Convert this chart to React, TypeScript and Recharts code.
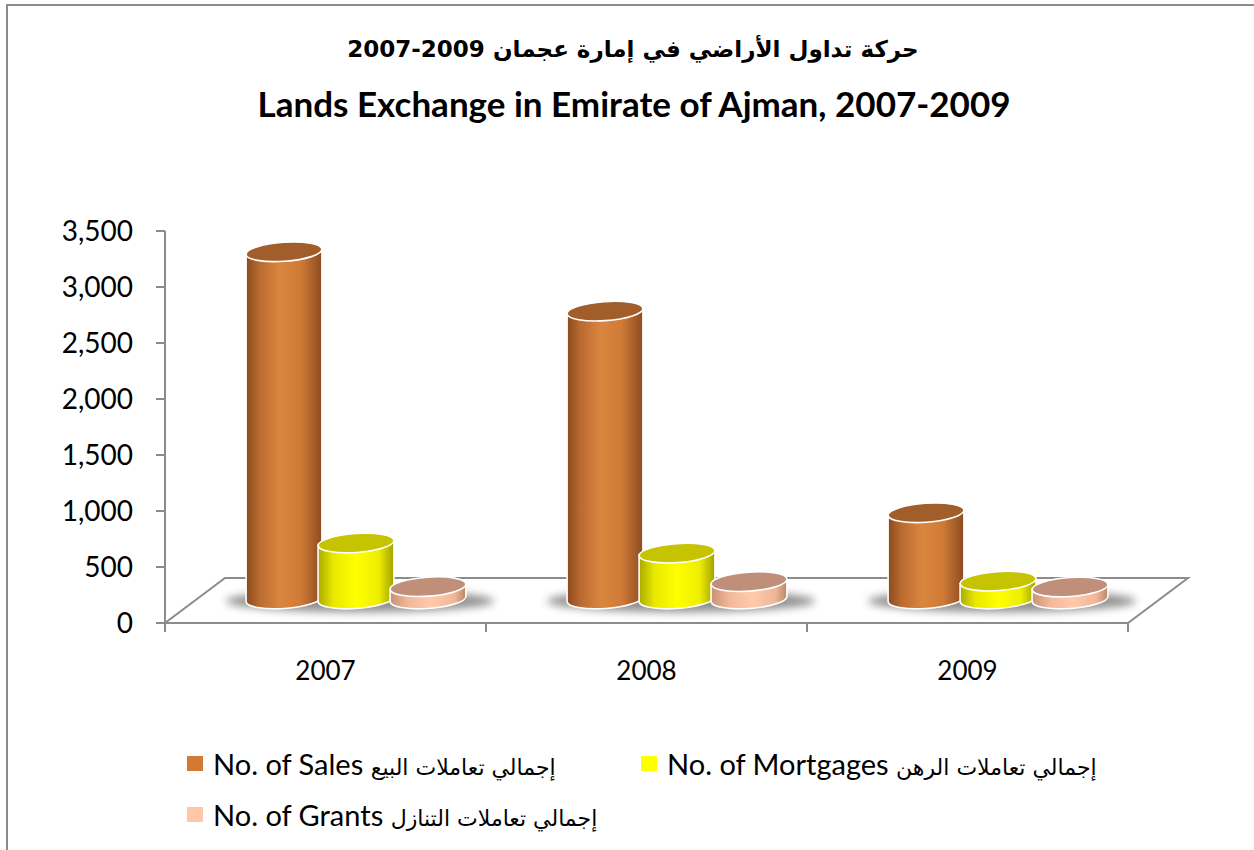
import React from "react";
import { Bar, BarChart, Customized, XAxis, YAxis } from "recharts";

// values (3D cylinders, Excel-style)
const CATEGORIES = ["2007", "2008", "2009"];
const SALES = [3100, 2570, 770];
const MORTGAGES = [500, 410, 160];
const GRANTS = [110, 155, 107];
const Y_TICKS = [0, 500, 1000, 1500, 2000, 2500, 3000, 3500];

// logical order of the years is reversed so the RTL line shows "2007-2009"
const TITLE_AR = "حركة تداول الأراضي في إمارة عجمان 2009-2007";
const TITLE_EN = "Lands Exchange in Emirate of Ajman, 2007-2009";

const SERIES = [
  { key: "sales", label: "No. of Sales", labelAr: "إجمالي تعاملات البيع", swatch: "#d07a35" },
  { key: "mortgages", label: "No. of Mortgages", labelAr: "إجمالي تعاملات الرهن", swatch: "#ffff00" },
  { key: "grants", label: "No. of Grants", labelAr: "إجمالي تعاملات التنازل", swatch: "#ffc6a8" },
];

const data = CATEGORIES.map((year, i) => ({
  year,
  sales: SALES[i],
  mortgages: MORTGAGES[i],
  grants: GRANTS[i],
}));

const W = 1254;
const H = 850;
// plot box (front face of the 3D floor)
const PLOT = { left: 165, top: 231, right: 1128, bottom: 623 };
const DEPTH = { dx: 60, dy: 45 };
const Y_AXIS_W = 100;
const X_AXIS_H = 60;
const AXIS_GRAY = "#8c8c8c";
const FONT = "Lato, 'DejaVu Sans', sans-serif";
const AR_FONT = "'DejaVu Sans', sans-serif";

// bars sit half way back on the floor
const SHIFT_X = DEPTH.dx / 2;
const SHIFT_Y = 24;
const TILT = (-4 * Math.PI) / 180;

const CYL = {
  sales: { grad: "gSales", top: "#a15e2b" },
  mortgages: { grad: "gMort", top: "#c6c300" },
  grants: { grad: "gGrant", top: "#bf8f79" },
};

function makeCylinder(kind: keyof typeof CYL, withShadow: boolean) {
  return (props: any) => {
    const { x, y, width, height } = props;
    if (width == null || height == null) return <g />;
    const cx = x + width / 2 + SHIFT_X;
    const rx = width / 2 + 2;
    const ry = 9.5;
    const topY = y - SHIFT_Y;
    const botY = y + height - SHIFT_Y;
    const ex = rx * Math.cos(TILT);
    const ey = rx * Math.sin(TILT);
    const deg = (TILT * 180) / Math.PI;
    const side = `M${cx - ex},${topY - ey} L${cx - ex},${botY - ey} A${rx},${ry} ${deg} 0 0 ${cx + ex},${botY + ey} L${cx + ex},${topY + ey} Z`;
    return (
      <g>
        {withShadow && (
          <ellipse
            cx={x + width * 1.5 + SHIFT_X + 4}
            cy={botY + 2}
            rx={width * 1.5 + 26}
            ry={11}
            fill="#7a7a7a"
            opacity={0.85}
            filter="url(#baseShadow)"
          />
        )}
        <path d={side} fill={`url(#${CYL[kind].grad})`} stroke="#ffffff" strokeWidth={1.6} />
        <ellipse
          cx={cx}
          cy={topY}
          rx={rx}
          ry={ry}
          transform={`rotate(${deg} ${cx} ${topY})`}
          fill={CYL[kind].top}
          stroke="#ffffff"
          strokeWidth={1.6}
        />
      </g>
    );
  };
}

// floor outline + category boundary ticks, Excel 3D style
function Floor() {
  const { left, right, bottom } = PLOT;
  const band = (right - left) / CATEGORIES.length;
  const ticks = Array.from({ length: CATEGORIES.length + 1 }, (_, i) => left + i * band);
  return (
    <g>
      <polygon
        points={`${left},${bottom} ${right},${bottom} ${right + DEPTH.dx},${bottom - DEPTH.dy} ${left + DEPTH.dx},${bottom - DEPTH.dy}`}
        fill="#ffffff"
        stroke={AXIS_GRAY}
        strokeWidth={2}
      />
      {ticks.map((t) => (
        <line key={t} x1={t} x2={t} y1={bottom} y2={bottom + 9} stroke={AXIS_GRAY} strokeWidth={2} />
      ))}
    </g>
  );
}

function LegendItem({ s }: { s: (typeof SERIES)[number] }) {
  return (
    <div style={{ display: "flex", alignItems: "center", whiteSpace: "nowrap", height: 30 }}>
      <span style={{ width: 16, height: 15, background: s.swatch, marginRight: 10, display: "inline-block" }} />
      <span>
        {s.label} <span style={{ fontFamily: AR_FONT, fontSize: 22 }}>{s.labelAr}</span>
      </span>
    </div>
  );
}

function Legend() {
  return (
    <div style={{ position: "absolute", left: 187, top: 748, fontFamily: FONT, fontSize: 29, color: "#000" }}>
      <div style={{ display: "flex" }}>
        <div style={{ width: 454 }}>
          <LegendItem s={SERIES[0]} />
        </div>
        <LegendItem s={SERIES[1]} />
      </div>
      <div style={{ marginTop: 21 }}>
        <LegendItem s={SERIES[2]} />
      </div>
    </div>
  );
}

export default function App() {
  return (
    <div style={{ position: "fixed", left: 0, top: 0, width: W, height: H, overflow: "hidden", background: "#fff" }}>
      <div
        style={{
          position: "absolute",
          left: 6,
          top: 4,
          width: W + 20,
          height: H + 20,
          border: `2px solid ${AXIS_GRAY}`,
          boxSizing: "border-box",
        }}
      />
      <div
        dir="rtl"
        style={{
          position: "absolute",
          left: 0,
          width: W,
          top: 36,
          textAlign: "center",
          fontFamily: AR_FONT,
          fontWeight: 700,
          fontSize: 23,
          paddingLeft: 12,
          boxSizing: "border-box",
        }}
      >
        {TITLE_AR}
      </div>
      <div
        style={{
          position: "absolute",
          left: 0,
          width: W,
          top: 82,
          textAlign: "center",
          fontFamily: FONT,
          fontWeight: 700,
          fontSize: 35,
          paddingLeft: 14,
          boxSizing: "border-box",
        }}
      >
        {TITLE_EN}
      </div>
      <div style={{ position: "absolute", left: 0, top: 0 }}>
        <BarChart
          width={W}
          height={H}
          data={data}
          barSize={72}
          barGap={0}
          margin={{
            top: PLOT.top,
            right: W - PLOT.right,
            bottom: H - PLOT.bottom - X_AXIS_H,
            left: PLOT.left - Y_AXIS_W,
          }}
        >
          <defs>
            <linearGradient id="gSales" x1="0" y1="0" x2="1" y2="0">
              <stop offset="0" stopColor="#8a4a1e" />
              <stop offset="0.18" stopColor="#bb6b31" />
              <stop offset="0.45" stopColor="#da863f" />
              <stop offset="0.72" stopColor="#cf7b37" />
              <stop offset="1" stopColor="#8c4b20" />
            </linearGradient>
            <linearGradient id="gMort" x1="0" y1="0" x2="1" y2="0">
              <stop offset="0" stopColor="#a9a900" />
              <stop offset="0.2" stopColor="#e8e800" />
              <stop offset="0.5" stopColor="#ffff00" />
              <stop offset="0.8" stopColor="#eeee00" />
              <stop offset="1" stopColor="#a0a000" />
            </linearGradient>
            <linearGradient id="gGrant" x1="0" y1="0" x2="1" y2="0">
              <stop offset="0" stopColor="#c99274" />
              <stop offset="0.25" stopColor="#f3b999" />
              <stop offset="0.55" stopColor="#ffcaac" />
              <stop offset="0.85" stopColor="#f0b698" />
              <stop offset="1" stopColor="#b9866a" />
            </linearGradient>
            <filter id="baseShadow" x="-20%" y="-100%" width="140%" height="300%">
              <feGaussianBlur stdDeviation="4" />
            </filter>
          </defs>
          <Customized component={Floor} />
          <XAxis
            dataKey="year"
            height={X_AXIS_H}
            axisLine={{ stroke: AXIS_GRAY, strokeWidth: 2 }}
            tickLine={false}
            tickMargin={33}
            tick={{ fontSize: 26, fontFamily: FONT, fill: "#000" }}
          />
          <YAxis
            width={Y_AXIS_W}
            domain={[0, 3500]}
            ticks={Y_TICKS}
            interval={0}
            axisLine={{ stroke: AXIS_GRAY, strokeWidth: 2 }}
            tickLine={{ stroke: AXIS_GRAY, strokeWidth: 2 }}
            tickSize={9}
            tickMargin={23}
            tickFormatter={(v: number) => v.toLocaleString("en-US")}
            tick={{ fontSize: 28, fontFamily: FONT, fill: "#000" }}
          />
          <Bar dataKey="sales" isAnimationActive={false} shape={makeCylinder("sales", true)} />
          <Bar dataKey="mortgages" isAnimationActive={false} shape={makeCylinder("mortgages", false)} />
          <Bar dataKey="grants" isAnimationActive={false} shape={makeCylinder("grants", false)} />
        </BarChart>
      </div>
      <Legend />
    </div>
  );
}
